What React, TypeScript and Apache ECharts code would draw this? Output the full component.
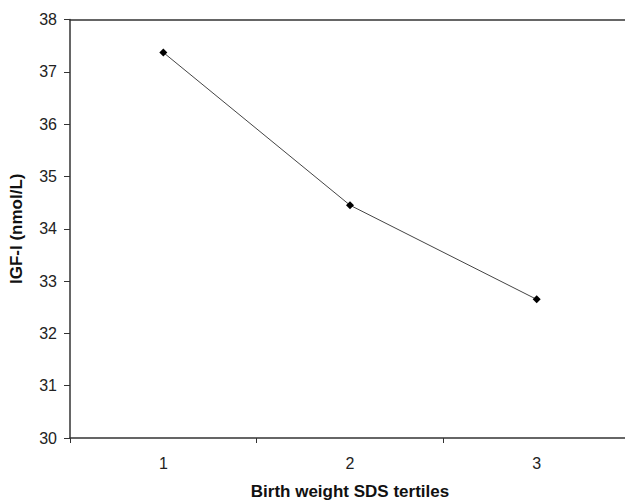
import React, { useEffect, useRef } from "react";
import * as echarts from "echarts";

const categories = ["1", "2", "3"];
const igfValues = [37.37, 34.45, 32.65];
const yMin = 30;
const yMax = 38;
const yInterval = 1;

export default function App() {
  const ref = useRef<HTMLDivElement>(null);
  useEffect(() => {
    if (!ref.current) return;
    const chart = echarts.init(ref.current, undefined, { renderer: "svg" });
    const font = "'Liberation Sans', Arial, sans-serif";
    chart.setOption({
      animation: false,
      backgroundColor: "#ffffff",
      grid: { left: 70, right: -5, top: 19.5, bottom: 64, outerBoundsMode: "none", containLabel: false },
      xAxis: [
        {
          type: "category",
          data: categories,
          boundaryGap: true,
          name: "Birth weight SDS tertiles",
          nameLocation: "middle",
          nameGap: 45,
          nameTextStyle: { fontFamily: font, fontSize: 17, fontWeight: "bold", color: "#111" },
          axisLine: { lineStyle: { color: "#333", width: 1.5 } },
          axisTick: { show: true, length: 5, lineStyle: { color: "#333" } },
          axisLabel: { fontFamily: font, fontSize: 16, color: "#222", margin: 17 },
        },
        {
          type: "category",
          data: categories,
          position: "top",
          axisLine: { lineStyle: { color: "#333", width: 1.5 } },
          axisTick: { show: false },
          axisLabel: { show: false },
        },
      ],
      yAxis: {
        type: "value",
        min: yMin,
        max: yMax,
        interval: yInterval,
        name: "IGF-I (nmol/L)",
        nameLocation: "middle",
        nameGap: 45,
        nameRotate: 90,
        nameTextStyle: { fontFamily: font, fontSize: 17, fontWeight: "bold", color: "#111" },
        axisLine: { show: true, lineStyle: { color: "#333", width: 1.5 } },
        axisTick: { show: true, length: 6, lineStyle: { color: "#333" } },
        axisLabel: { fontFamily: font, fontSize: 16, color: "#222", margin: 13 },
        splitLine: { show: false },
      },
      series: [
        {
          type: "line",
          data: igfValues,
          symbol: "diamond",
          symbolSize: 8,
          itemStyle: { color: "#000" },
          lineStyle: { color: "#444", width: 1 },
        },
      ],
    });
    return () => chart.dispose();
  }, []);
  return (
    <div
      ref={ref}
      style={{ position: "absolute", left: 0, top: 0, width: 625, height: 502 }}
    />
  );
}
